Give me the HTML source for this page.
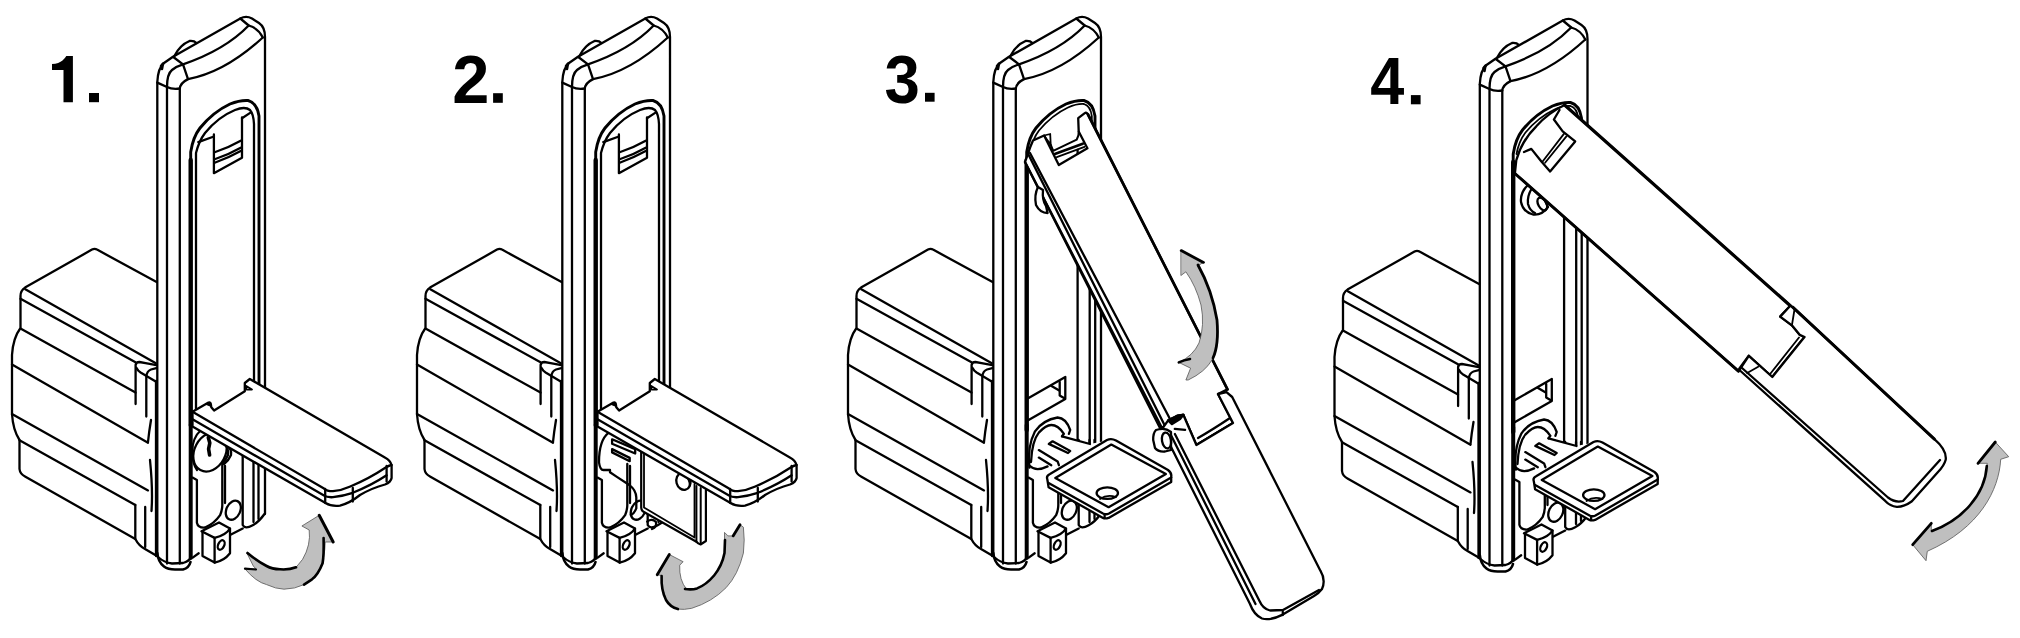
<!DOCTYPE html>
<html><head><meta charset="utf-8"><style>
html,body{margin:0;padding:0;background:#fff;width:2020px;height:638px;overflow:hidden}
svg{position:absolute;left:0;top:0}
</style></head><body>
<svg width="2020" height="638" viewBox="0 0 2020 638" stroke="#000" stroke-linecap="round" stroke-linejoin="round" fill="none">
<defs><g id="base"><path d="M156.6,282 L97,249.6 Q94.6,248.2 92,249.6 L25,287.6 Q20.5,290.5 20.5,296 L20.5,328 Q13,338 12,355 L12,414 Q13,430 19.5,440 L19.5,469 Q20,474 25,476.5 L135.3,539 Q139,546 145,549 L157,556" stroke-width="2.3" fill="none" /><path d="M25.3,289.2 L155.8,363.2" stroke-width="2.3" fill="none" /><path d="M20.5,298.7 L135.5,362.2" stroke-width="2.3" fill="none" /><path d="M20.5,328.6 L135.5,392.6" stroke-width="2.3" fill="none" /><path d="M135.6,404 L135.6,365 Q136,362 139.4,362 L145.6,363.2 L156.3,365.1" stroke-width="2.3" fill="none" /><path d="M136.2,367.6 Q138,371 140.6,372.6 L155.7,381.4" stroke-width="2.3" fill="none" /><path d="M156,381 L156,556" stroke-width="2.3" fill="none" /><path d="M146.3,416.5 L146.3,376.4 Q147,371 151,369.5 L156.3,368.2" stroke-width="2.3" fill="none" /><path d="M12,364.5 L148,442.8" stroke-width="2.3" fill="none" /><path d="M12,414 L148,490.4" stroke-width="2.3" fill="none" /><path d="M19.5,440.3 L135.3,505" stroke-width="2.3" fill="none" /><path d="M135.3,505 L135.3,539" stroke-width="2.3" fill="none" /><path d="M151,420 Q149,432 148,442" stroke-width="2.3" fill="none" /><path d="M145.2,507 L145.2,547" stroke-width="2.3" fill="none" /><path d="M150,460 Q153,490 151.5,511" stroke-width="2.3" fill="none" /><path d="M157.3,555 L157.3,82 Q158,68 164,63 L173,56.8 L240.3,18.5 Q246,15.3 252,18.5 L259,23 Q265,27 265,37 L265,514" stroke-width="2.3" fill="none" /><path d="M157.3,553 Q158,562 164,566.5 Q168,569.5 175,569.5 L183,569.5 Q189,568 190.5,562" stroke-width="2.6" fill="none" /><path d="M158,557 Q164,562.5 172,563.5 L183,563 Q189,561.5 191,557" stroke-width="2.3" fill="none" /><path d="M167,563.5 L167,87 Q167,74 172,70 Q177,66 183,64.3" stroke-width="2.3" fill="none" /><path d="M157.3,82.6 L167,87 Q172,89.5 179.8,88.5" stroke-width="2.3" fill="none" /><path d="M179.8,563.5 L179.8,89 Q180,83 188,79.1 Q225,72.3 262.8,37.5" stroke-width="2.3" fill="none" /><path d="M173.3,57 L183,64.3 L188,79.1" stroke-width="2.3" fill="none" /><path d="M183,64.3 Q225,50 248.7,25.5 Q258,28 262.8,37.5" stroke-width="2.3" fill="none" /><path d="M240.3,18.5 L248.7,25.5" stroke-width="2.3" fill="none" /><path d="M174.7,55.5 Q180,45 189.5,41 Q194,40.5 196.5,43" stroke-width="2.3" fill="none" /><path d="M161,66 L163,63.5 L162,69 Z" stroke-width="2.5" fill="#000" /><path d="M190.7,425 L190.7,558" stroke-width="4.0" fill="none" /><path d="M192.5,477.6 L196.9,480 L196.9,522.7 Q198,528 205,527.5 Q214,524 220.1,515.2 Q222.3,510 222.3,505 L222.3,464" stroke-width="2.3" fill="none" /><path d="M225,466 L225,503" stroke-width="2.3" fill="none" /><ellipse cx="233.3" cy="510.2" rx="6.9" ry="10" transform="rotate(25 233.3 510.2)" stroke-width="2.3" fill="none"/><path d="M242.7,440 L242.7,525 Q245,529.5 252.7,525.2 Q259,522 264.5,514" stroke-width="2.3" fill="none" /><path d="M253.5,440 L253.5,522" stroke-width="2.3" fill="none" /><path d="M258.5,440 L258.5,519" stroke-width="2.3" fill="none" /><path d="M201.5,531.3 L219,522.5 L230,528.6 Q226,535 214.6,537.9 Z" stroke-width="2.3" fill="none" /><path d="M202.5,532 L202.5,556 L214.6,562.6 L214.6,538" stroke-width="2.3" fill="none" /><path d="M214.6,562.6 Q224,561 230,553.3 L230,528.6" stroke-width="2.3" fill="none" /><ellipse cx="221.2" cy="545" rx="3" ry="5" transform="rotate(25 221.2 545)" stroke-width="2.3" fill="none"/><path d="M198.7,553.3 L192.7,557.6" stroke-width="2.3" fill="none" /><path d="M231,534.6 L242.7,528.6" stroke-width="2.3" fill="none" /></g><g id="rec"><path d="M190.7,425 L190.7,152 Q193,137 200,128 Q213,112 230,104 Q240,100 248,100.5 Q257,103 259,116 L259,390" stroke-width="2.9" fill="none" /><path d="M190.7,425 L190.7,160" stroke-width="4.4" fill="none" /><path d="M196,425 L196,153 Q199,141 205,133 Q218,117 235,110 Q245,106 250,110 Q253.5,114 254,124 L254,390" stroke-width="2.3" fill="none" /><path d="M198.3,142.2 L213.9,136.5" stroke-width="2.3" fill="none" /><path d="M242,118.2 L250.5,112.6" stroke-width="2.3" fill="none" /><path d="M213.9,134.4 L213.9,173.2 L242,157.7 L242,117.5" stroke-width="2.3" fill="none" /><path d="M215.3,152 Q228,148 240.7,140.8" stroke-width="2.3" fill="none" /><path d="M215.3,159 Q228,155 240.7,147.8" stroke-width="2.3" fill="none" /><path d="M215.3,162.5 Q228,158 240.7,151" stroke-width="2.3" fill="none" /></g><g id="reco"><path d="M190.7,430 L190.7,152 Q193,137 200,128 Q213,112 230,104 Q240,100 248,100.5 Q257,103 259,116 L259,150" stroke-width="2.9" fill="none" /><path d="M190.7,430 L190.7,160" stroke-width="4.4" fill="none" /><path d="M254,124 L254,150" stroke-width="2.3" fill="none" /><path d="M194,152 Q196.5,139 203,130.5 Q216,115 232,107.5 Q241,103.5 248,104 Q254.5,106 255.8,116 L255.8,150" stroke-width="1.8" fill="none" /><path d="M241.6,150 L241.6,470" stroke-width="2.3" fill="none" /><path d="M253.7,150 L253.7,470" stroke-width="2.3" fill="none" /><path d="M259.2,150 L259.2,470" stroke-width="2.3" fill="none" /><path d="M192.6,398 L229.3,376.9 L229.3,398.9 L192.6,420" stroke-width="2.3" fill="none" /><path d="M215.5,386 L222.8,390.3" stroke-width="2.3" fill="none" /><path d="M223.7,382 L223.7,395.4 L228.8,398.4" stroke-width="2.3" fill="none" /></g></defs><use href="#base"/><use href="#rec"/><g transform="translate(0,0)"><ellipse cx="210" cy="452" rx="15.5" ry="20.5" transform="rotate(28 210 452)" stroke-width="2.3" fill="none"/><path d="M208.3,437.5 L209.8,443 L208.6,449 L209.6,455" stroke-width="3.6" fill="none" /><path d="M201.5,429.5 Q192,438 192.2,452 Q192.5,464 197,470" stroke-width="2.2" fill="none" /><path d="M227,445.5 Q232,449 231,455 Q229,460 224,464" stroke-width="2.3" fill="none" /><path d="M224.5,444 Q229,449 228,455 Q226,460 222.3,463" stroke-width="2.3" fill="none" /></g><g transform="translate(0,0)"><path d="M192.5,411.8 L208.5,402.6 Q210.5,402 210.8,404 L211.3,407.2 L214.1,410.5 L244.8,391.3 L244.8,383 L249.8,379 L385.3,457.7 Q390,460 391.6,465 L391.6,478 Q391,482 385,484.5 Q372,488 360,495 Q350,503 340,505.6 Q331,506.5 326,503.3 L192.5,426.6 Z" stroke-width="2.3" fill="#fff" /><path d="M192.5,411.8 L324,488.6 Q327,491.3 333,491.2 Q342,490.3 350.3,486.5 Q370,478 385.3,467.7 Q390,465 391.6,465" stroke-width="2.3" fill="none" /><path d="M192.5,419.2 L324,495.6 Q327,497.5 333,497.2 Q343,496 352.8,492.8 Q372,485 386.6,475.3" stroke-width="2.3" fill="none" /><path d="M325.2,489 L325.2,503" stroke-width="2.3" fill="none" /><path d="M245.9,385.8 L252,389.6 L246.5,389.6 Z" stroke-width="1.8" fill="none" /><path d="M206,404 L210,402.5 L210.8,406 Z" stroke-width="1.5" fill="#000" /><path d="M352.8,488 L352.8,501.6" stroke-width="2.3" fill="none" /><path d="M386.6,466 L386.6,481.5" stroke-width="2.3" fill="none" /></g><g transform="translate(0,0)"><path d="M247,553.3 L253.3,566 L256,569 L244.7,568.6 Q256,582 266.6,584.6 Q276,589 284,589.2 Q295,589 304,584.6 Q316,577 320,568.6 Q325,557 325.2,542 L333.2,542 L319.2,515.3 L301.9,526 L309.2,530 Q311,545 302.6,559.3 Q298,565 296,567.3 Q289,570 280,569.3 Q272,569 266.6,566 Q257,561 247,553.3 Z" stroke-width="0.8" fill="#bfbfbf" stroke="#555"/><path d="M247.5,553 Q257,561 266.6,566 Q272,569 280,569.3 Q289,570 296,567.3" stroke-width="2.6" fill="none" /><path d="M245,568.6 L256,569.5" stroke-width="2.2" fill="none" /><path d="M319.2,515.3 L333.2,542" stroke-width="3" fill="none" /><path d="M323.6,538 Q324,555 322.6,563.3 Q318,575 312,579.3 Q308,582 304,584.6" stroke-width="2.6" fill="none" /></g><use href="#base" transform="translate(405,0)"/><use href="#rec" transform="translate(405,0)"/><g transform="translate(0,0)"><path d="M608.8,432.7 Q599,440 599,462.3 Q600,470 603.4,470 L610,470 L610,472.2 L616.5,476.6 L629.7,485.3 Q636,490 636.3,497.4 L636.3,508.4 Q634,514 630.8,515" stroke-width="2.3" fill="none" /><path d="M612.1,439.3 L635.2,449.1 L635.2,453.5 L612.1,443.7 Z" stroke-width="2.3" fill="none" /><path d="M612.1,449.1 L629.7,457.9 L629.7,461.2 L612.1,452.4 Z" stroke-width="2.3" fill="none" /><path d="M647.2,521.6 Q652,518 656,522 Q657,527 652,529" stroke-width="2.3" fill="none" /></g><g transform="translate(0,0)"><path d="M641.2,445 L641.2,507.5 Q641.5,511 644,512 L696.4,541.7 Q698,544 700.5,544.5 L705.9,541 L705.9,480 Z" stroke-width="0" fill="#fff" stroke="none"/><path d="M641.2,451 L641.2,507.5 Q641.5,511 644,512 L696.4,541.7 Q698,544 700.5,544.5 L705.9,541 L705.9,490" stroke-width="2.2" fill="none" /><path d="M644,453 L644,507.5 L694.5,537.5 L694.5,484" stroke-width="1.8" fill="none" /><path d="M696.4,486 L696.4,541.7" stroke-width="2.0" fill="none" /><path d="M700.7,488 L700.7,544" stroke-width="2.0" fill="none" /><ellipse cx="683.4" cy="481.4" rx="7" ry="8.6" transform="rotate(-15 683.4 481.4)" stroke-width="2.3" fill="none"/><path d="M685,476 Q690,479 689.5,486" stroke-width="1.6" fill="none" /></g><g transform="translate(405,0)"><path d="M192.5,411.8 L208.5,402.6 Q210.5,402 210.8,404 L211.3,407.2 L214.1,410.5 L244.8,391.3 L244.8,383 L249.8,379 L385.3,457.7 Q390,460 391.6,465 L391.6,478 Q391,482 385,484.5 Q372,488 360,495 Q350,503 340,505.6 Q331,506.5 326,503.3 L192.5,426.6 Z" stroke-width="2.3" fill="#fff" /><path d="M192.5,411.8 L324,488.6 Q327,491.3 333,491.2 Q342,490.3 350.3,486.5 Q370,478 385.3,467.7 Q390,465 391.6,465" stroke-width="2.3" fill="none" /><path d="M192.5,419.2 L324,495.6 Q327,497.5 333,497.2 Q343,496 352.8,492.8 Q372,485 386.6,475.3" stroke-width="2.3" fill="none" /><path d="M325.2,489 L325.2,503" stroke-width="2.3" fill="none" /><path d="M245.9,385.8 L252,389.6 L246.5,389.6 Z" stroke-width="1.8" fill="none" /><path d="M206,404 L210,402.5 L210.8,406 Z" stroke-width="1.5" fill="#000" /><path d="M352.8,488 L352.8,501.6" stroke-width="2.3" fill="none" /><path d="M386.6,466 L386.6,481.5" stroke-width="2.3" fill="none" /></g><g transform="translate(0,0)"><path d="M669.3,554.5 L683.1,561.7 L679.7,565.2 Q679,580 686.6,589.3 Q692,590 696.9,588.4 Q706,585 714.1,575.5 Q722,566 724.5,553.1 L724.5,532.4 L728,535.9 L733.1,535.9 L740,524.7 L743.4,527.2 Q745,540 743.4,553.1 Q738,575 726.2,587.6 Q712,602 691.7,608.3 Q684,610 677.9,609.1 Q668,606 665.9,599.7 Q661,588 661.6,575.5 L657.2,574.7 Z" stroke-width="0.8" fill="#bfbfbf" stroke="#555"/><path d="M657.2,574.7 L669.3,554.5" stroke-width="2.8" fill="none" /><path d="M661.6,576 Q661,590 666,600 Q670,607 677.9,609.1" stroke-width="2.6" fill="none" /><path d="M685,589 Q692,590 697,588.4 Q706,585 714.1,575.5 Q722,566 724.5,553.1 L725,540" stroke-width="2.6" fill="none" /><path d="M733.1,535.9 L740,524.7" stroke-width="2.8" fill="none" /></g><use href="#base" transform="translate(836,0)"/><use href="#reco" transform="translate(836,0)"/><g transform="translate(0,0)"><path d="M1035,431 Q1043,420 1057.6,417.5 Q1066,418 1070.2,430 L1068.9,433.8 L1062,436.3 L1090,444 L1110,440 L1171,477 L1108,518 L1047,487 L1047,475 Q1036,472 1030,466 Q1027,447 1035,431 Z" stroke-width="0" fill="#fff" stroke="none"/><path d="M1029.4,467.7 Q1027,447 1035,431.3 Q1043,420 1057.6,417.5 Q1066,418 1070.2,430 L1068.9,433.8" stroke-width="2.3" fill="none" /><path d="M1031,462 Q1032,441 1038.8,432.6 Q1046,425 1051.3,425 Q1058,425 1063.9,433.8 L1062,436.3" stroke-width="2.3" fill="none" /><path d="M1030,466 Q1036,472 1047.6,466.4" stroke-width="2.3" fill="none" /><path d="M1062,436.3 L1090,444" stroke-width="2.3" fill="none" /><path d="M1038.8,450.1 L1057.6,461.4 L1058.9,465.2" stroke-width="2.3" fill="none" /><path d="M1038.8,457.6 L1051.3,465.2" stroke-width="2.3" fill="none" /><path d="M1048.8,443.9 L1052.6,441.3 L1070.2,451 L1068,453 Z" stroke-width="2.3" fill="none" /><path d="M1047.3,479.2 Q1046,476 1050,474 L1107,440 Q1111.3,438 1116,440.5 L1168,470 Q1172,473 1171.2,477 L1171.2,481.9 L1108.6,517.9 Q1105,519 1103,517.9 L1048.6,487.2 Z" stroke-width="2.3" fill="#fff" /><path d="M1048.6,483 L1103,513.5 Q1106,515 1109,513.5 L1171.2,477.5" stroke-width="2.3" fill="none" /><path d="M1104.6,514.5 L1104.6,518" stroke-width="2.3" fill="none" /><path d="M1055.3,477.9 L1111.3,444.6 L1165.9,473.9 L1108.6,507.2 Z" stroke-width="2.3" fill="none" /><ellipse cx="1107.3" cy="493.1" rx="10.7" ry="5.8" transform="rotate(0 1107.3 493.1)" stroke-width="2.3" fill="none"/><path d="M1100,499 Q1107,494 1116,497" stroke-width="1.8" fill="none" /></g><g transform="translate(0,0)"><path d="M1030.2,147.3 L1033,140.5 L1044.1,135.5 L1058.8,165.1 L1087.4,148.3 L1078.7,131.5 L1078.2,118.2 L1084.8,113.1 Q1086.5,112 1088,114.5 L1227.5,389.4 L1218,394 L1233,423 L1196.4,445 L1183.3,414.8 L1177,416 L1162,428 L1025,162 Z" stroke-width="2.3" fill="#fff" /><path d="M1088,114.5 L1227.5,389.4" stroke-width="2.8" fill="none" /><path d="M1025,162 L1160,428" stroke-width="2.3" fill="none" /><path d="M1028.7,155 L1164.5,425" stroke-width="2.3" fill="none" /><path d="M1030,153 L1170,419" stroke-width="2.3" fill="none" /><path d="M1044.1,135.5 L1050.2,134 L1050.7,144.7 Z" stroke-width="1.8" fill="none" /><path d="M1050.7,144.7 L1053.2,150.8 L1076.7,139.6 Q1079,136 1078.7,131.5" stroke-width="2" fill="none" /><path d="M1054.8,154 L1082.8,143.7" stroke-width="2.8" fill="none" /><path d="M1056.8,157.2 L1084.5,146.8" stroke-width="1.8" fill="none" /><path d="M1196.4,445 L1232,424" stroke-width="2.3" fill="none" /><path d="M1198,438 Q1212,430 1230,418" stroke-width="2.3" fill="none" /><path d="M1038,187 Q1034,195 1036,205 Q1040,213 1047.6,213 L1046,206 Q1042,200 1043,190 Z" stroke-width="2.3" fill="#fff" /></g><g transform="translate(0,0)"><path d="M1226.5,392.2 L1232.2,397 L1320.4,570.7 Q1326,580 1322,589 Q1319,593 1314,596 L1282.8,614.6 Q1270,621 1262,618.5 Q1254,615 1250,604 L1162,429 L1168.2,420.4 L1177,416 L1183.3,414.8 L1196.4,445 L1233,423 L1218,394 Z" stroke-width="2.3" fill="#fff" /><path d="M1171.4,436 L1255.5,604" stroke-width="2.3" fill="none" /><path d="M1174.9,434 L1259.5,601 Q1263,609 1270,610.5 L1283,610 L1319,590" stroke-width="2.3" fill="none" /><path d="M1282.8,612 L1282.8,615" stroke-width="2.3" fill="none" /><path d="M1168.2,420.4 L1177,416 L1183.3,414.8 L1180,419 L1172,424 Z" stroke-width="2.5" fill="#000" /><path d="M1174.8,428.9 L1185.1,429.8" stroke-width="2.3" fill="none" /><path d="M1156,430 Q1153,433 1153.2,440 L1155,448 Q1158,452 1165,451.5 L1171,450 L1171,432 Q1166,428 1160,429 Z" stroke-width="2.3" fill="#fff" /><ellipse cx="1166.5" cy="440.5" rx="4.5" ry="8" transform="rotate(-10 1166.5 440.5)" stroke-width="2.3" fill="none"/></g><g transform="translate(0,0)"><path d="M1181.2,250.6 L1203.5,262.4 L1197.6,265.9 Q1212,290 1217,320 Q1219,345 1212,360 Q1205,372 1188.2,380 L1185.9,380 L1190.6,368.2 L1178.8,362.4 Q1193,356 1199,343 Q1205,325 1201,305 Q1196,286 1185.9,271.8 L1181.2,275.3 Z" stroke-width="0.8" fill="#bfbfbf" stroke="#555"/><path d="M1181.2,250.6 L1203.5,262.4" stroke-width="2.8" fill="none" /><path d="M1198,265 Q1212,290 1217,320 Q1219,345 1213,358" stroke-width="2.8" fill="none" /><path d="M1178.8,362.4 Q1184,360 1190,359" stroke-width="2.6" fill="none" /></g><use href="#base" transform="translate(1322.5,2)"/><use href="#reco" transform="translate(1322.5,2)"/><g transform="translate(486.5,2)"><path d="M1035,431 Q1043,420 1057.6,417.5 Q1066,418 1070.2,430 L1068.9,433.8 L1062,436.3 L1090,444 L1110,440 L1171,477 L1108,518 L1047,487 L1047,475 Q1036,472 1030,466 Q1027,447 1035,431 Z" stroke-width="0" fill="#fff" stroke="none"/><path d="M1029.4,467.7 Q1027,447 1035,431.3 Q1043,420 1057.6,417.5 Q1066,418 1070.2,430 L1068.9,433.8" stroke-width="2.3" fill="none" /><path d="M1031,462 Q1032,441 1038.8,432.6 Q1046,425 1051.3,425 Q1058,425 1063.9,433.8 L1062,436.3" stroke-width="2.3" fill="none" /><path d="M1030,466 Q1036,472 1047.6,466.4" stroke-width="2.3" fill="none" /><path d="M1062,436.3 L1090,444" stroke-width="2.3" fill="none" /><path d="M1038.8,450.1 L1057.6,461.4 L1058.9,465.2" stroke-width="2.3" fill="none" /><path d="M1038.8,457.6 L1051.3,465.2" stroke-width="2.3" fill="none" /><path d="M1048.8,443.9 L1052.6,441.3 L1070.2,451 L1068,453 Z" stroke-width="2.3" fill="none" /><path d="M1047.3,479.2 Q1046,476 1050,474 L1107,440 Q1111.3,438 1116,440.5 L1168,470 Q1172,473 1171.2,477 L1171.2,481.9 L1108.6,517.9 Q1105,519 1103,517.9 L1048.6,487.2 Z" stroke-width="2.3" fill="#fff" /><path d="M1048.6,483 L1103,513.5 Q1106,515 1109,513.5 L1171.2,477.5" stroke-width="2.3" fill="none" /><path d="M1104.6,514.5 L1104.6,518" stroke-width="2.3" fill="none" /><path d="M1055.3,477.9 L1111.3,444.6 L1165.9,473.9 L1108.6,507.2 Z" stroke-width="2.3" fill="none" /><ellipse cx="1107.3" cy="493.1" rx="10.7" ry="5.8" transform="rotate(0 1107.3 493.1)" stroke-width="2.3" fill="none"/><path d="M1100,499 Q1107,494 1116,497" stroke-width="1.8" fill="none" /></g><g transform="translate(0,0)"><path d="M1529,184 Q1520,192 1521,202 Q1523,212 1533,214.5 Q1542,215.5 1548,207 L1540,190 Z" stroke-width="2.3" fill="#fff" /><path d="M1532,188 Q1527,196 1528,204 Q1530,211 1535,213" stroke-width="2.3" fill="none" /><ellipse cx="1542.3" cy="204" rx="4" ry="7" transform="rotate(-30 1542.3 204)" stroke-width="2.3" fill="none"/><path d="M1514.9,173.5 L1516.3,160.2 Q1522,140 1536.3,126.3 Q1548,113 1564.6,105 L1790.3,305.7 L1780.2,316.6 L1791.9,325.3 L1799.7,334.7 L1804.5,337 L1772.3,377 L1748.8,355.8 L1739.4,368.4 L1738.4,371.2 Z" stroke-width="2.3" fill="#fff" /><path d="M1559.5,110 L1553.9,119.5 L1562.7,131.4 L1575.2,141.4 L1550.1,171.5 L1541.4,161.5 L1531.3,148.9 L1524,152" stroke-width="2.3" fill="none" /><path d="M1563.9,133.9 L1542.6,161.5" stroke-width="1.8" fill="none" /><path d="M1566.4,136.4 L1545.1,162.7" stroke-width="1.8" fill="none" /><path d="M1564.6,105 L1790.3,305.7" stroke-width="3.2" fill="none" /><path d="M1514.9,173.5 L1738.4,371.2" stroke-width="3.0" fill="none" /></g><g transform="translate(0,0)"><path d="M1792.7,307.2 L1934.4,439.1 Q1947,450 1945.7,459.8 Q1944,466 1938,472 L1911.9,501.2 Q1904,507 1896.8,506.8 Q1890,506 1885.5,501.2 L1739.4,370 L1748.8,355.8 L1772.3,377 L1804.5,337 L1799.7,334.7 L1791.9,325.3 L1780.2,316.6 L1790.3,305.7 Z" stroke-width="2.3" fill="#fff" /><path d="M1792.7,307.2 L1934.4,439.1" stroke-width="3.0" fill="none" /><path d="M1742,368 L1888,497.5 Q1895,503 1903,501 L1940,460" stroke-width="2.3" fill="none" /><path d="M1770.5,373.5 L1799,337.5" stroke-width="1.8" fill="none" /><path d="M1794.5,309.5 L1791.9,325.3" stroke-width="1.8" fill="none" /><path d="M1747.2,373 L1758.2,366.8" stroke-width="1.8" fill="none" /></g><g transform="translate(0,0)"><path d="M1995.3,442 L2008.7,456.7 L2000.7,459.3 C1999,490 1980,528 1927.3,551.3 L1926,560.7 L1912.7,544.7 L1931.3,523.3 L1931.3,531.3 C1962,520 1985,495 1987.3,463.3 L1978,463.3 Z" stroke-width="0.8" fill="#bfbfbf" stroke="#555"/><path d="M1978,463.3 L1995.3,442" stroke-width="2.8" fill="none" /><path d="M1986.8,466 C1985,495 1962,520 1932,531" stroke-width="2.6" fill="none" /><path d="M1912.7,544.7 L1931.3,523.3" stroke-width="2.8" fill="none" /></g><path d="M66.3,56.1 L72.9,56.1 L72.9,102.2 L63.5,102.2 L63.5,70 L52,70 L52,64.1 Q59,63.5 62.5,60.5 Q65,58.5 66.3,56.1 Z" fill="#000" stroke="none"/><rect x="89" y="93" width="10" height="9.2" fill="#000" stroke="none"/><rect x="493.1" y="93.2" width="9.7" height="9.6" fill="#000" stroke="none"/><rect x="925" y="92.8" width="9.6" height="8.9" fill="#000" stroke="none"/><rect x="1410.9" y="95.1" width="9.7" height="9.2" fill="#000" stroke="none"/><text transform="translate(452.28,102.8) scale(0.667,0.676)" x="0" y="0" font-family="Liberation Sans, sans-serif" font-weight="bold" font-size="100" fill="#000" stroke="none">2</text><text transform="translate(884.57,102.5) scale(0.635,0.69)" x="0" y="0" font-family="Liberation Sans, sans-serif" font-weight="bold" font-size="100" fill="#000" stroke="none">3</text><text transform="translate(1370.26,104.3) scale(0.6125,0.671)" x="0" y="0" font-family="Liberation Sans, sans-serif" font-weight="bold" font-size="100" fill="#000" stroke="none">4</text>
</svg>
</body></html>
